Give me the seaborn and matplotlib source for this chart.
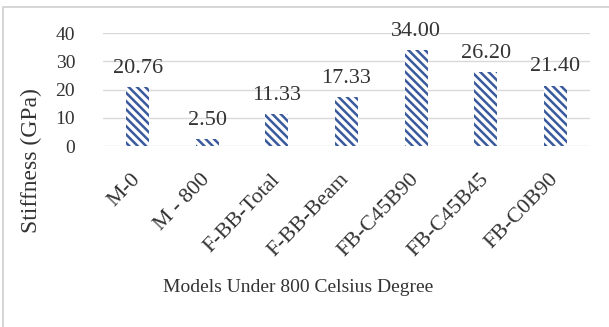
import seaborn as sb
import matplotlib.pyplot as plt
import matplotlib.patches as mpatches
import pandas as pd

modelos = ["M-0", "M - 800", "F-BB-Total", "F-BB-Beam", "FB-C45B90", "FB-C45B45", "FB-C0B90"]
rigidez = [20.76, 2.50, 11.33, 17.33, 34.00, 26.20, 21.40]
rotulos = ["20.76", "2.50", "11.33", "17.33", "34.00", "26.20", "21.40"]

df = pd.DataFrame({"Modelo": modelos, "Rigidez": rigidez})

sb.set_style("white")
plt.rcParams["font.family"] = ["Liberation Serif", "DejaVu Serif"]
plt.rcParams["hatch.linewidth"] = 1.8

fig = plt.figure(figsize=(6.09, 3.27), dpi=100)
ax = fig.add_axes([0.169, 0.553, 0.800, 0.346])

ax = sb.barplot(data=df, x="Modelo", y="Rigidez", width=0.33,
                color="white", edgecolor="#3a5a9e", linewidth=0,
                hatch="\\" * 4, ax=ax)

for i, (v, txt) in enumerate(zip(rigidez, rotulos)):
    ax.text(i, v + 3.3, txt, ha="center", va="bottom", fontsize=16, color="#333333")

ax.set_ylim(0, 40)
ax.set_xlim(-0.5, 6.5)
ax.set_yticks([0, 10, 20, 30, 40])
ax.yaxis.grid(True, color="#d9d9d9", linewidth=1)
ax.set_axisbelow(True)
for s in ax.spines.values():
    s.set_visible(False)
ax.tick_params(axis="y", labelsize=14, pad=20, length=0, colors="#333333")
ax.tick_params(axis="x", labelsize=15.8, length=0, pad=22, colors="#333333")
plt.setp(ax.get_xticklabels(), rotation=46, ha="right", va="center",
         rotation_mode="anchor")
ax.set_xlabel("")
ax.set_ylabel("Stiffness (GPa)", fontsize=17, color="#333333")
ax.yaxis.set_label_coords(-0.124, -0.13)

fig.text(0.49, 0.122, "Models Under 800 Celsius Degree", ha="center", va="center",
         fontsize=14, color="#333333")

borda = mpatches.Rectangle((0.005, -0.01), 1.1, 0.99, transform=fig.transFigure,
                           fill=False, edgecolor="#d0d0d0", linewidth=1.2)
fig.patches.append(borda)

fig.savefig("out.png", dpi=100)
